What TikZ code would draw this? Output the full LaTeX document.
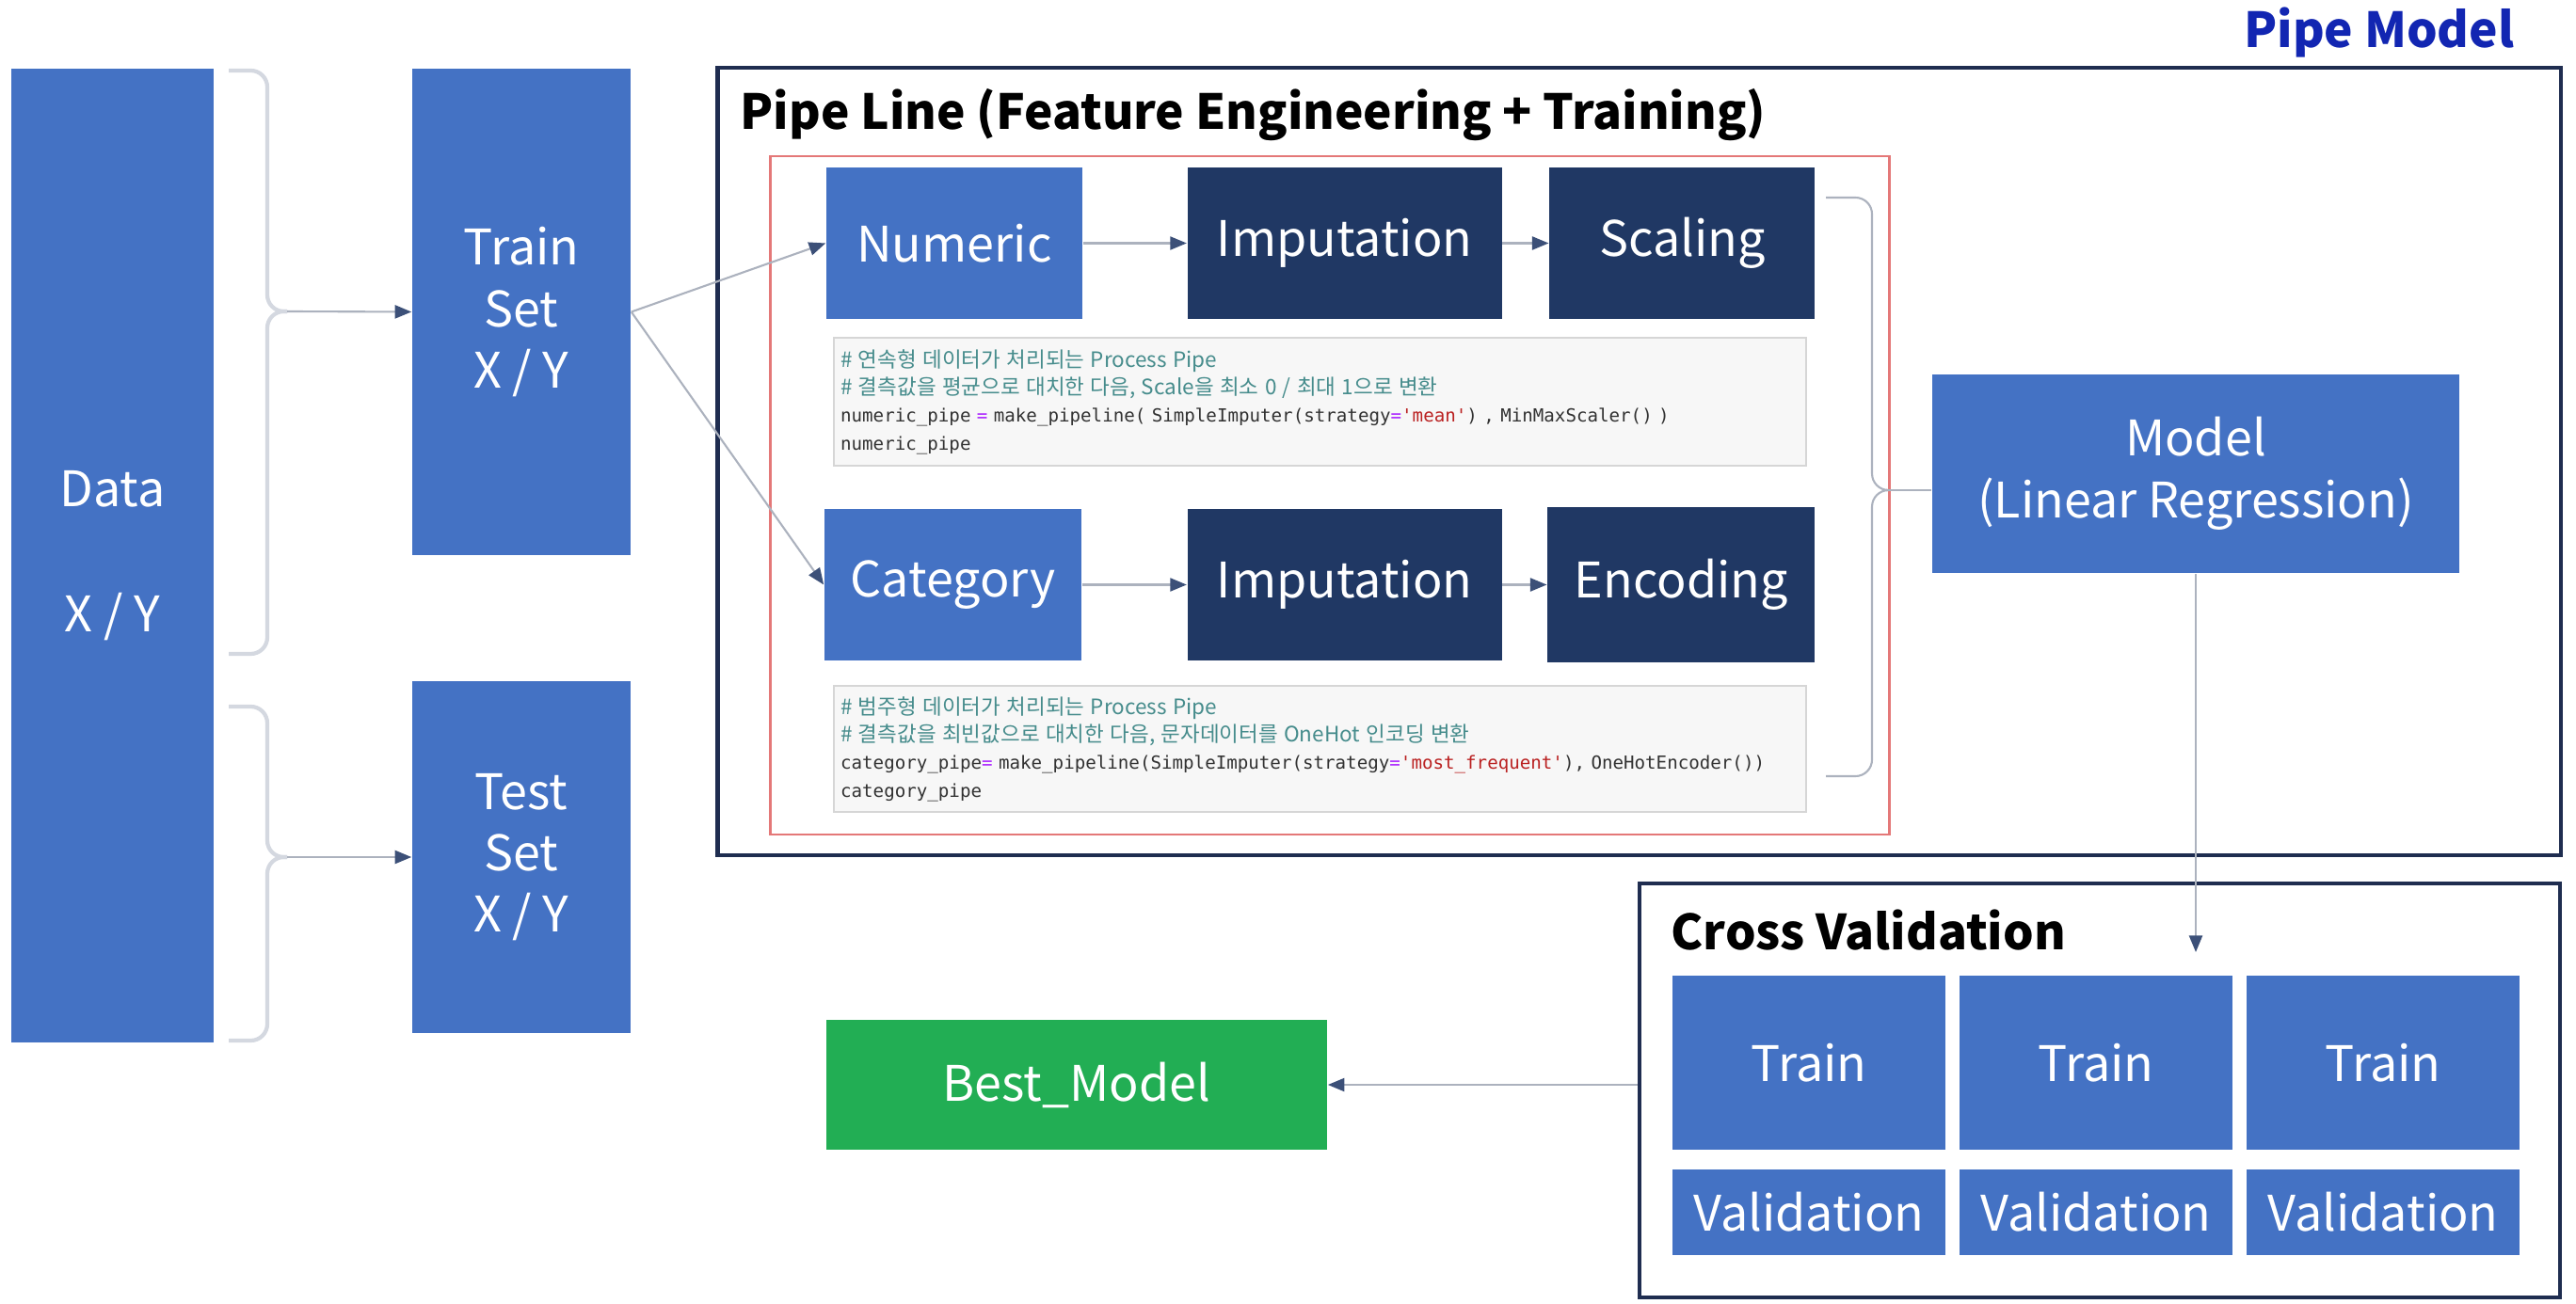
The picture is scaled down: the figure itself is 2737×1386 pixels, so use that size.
\documentclass[tikz,border=0pt]{standalone}
\usepackage{fontspec}
\setmainfont{Noto Sans CJK KR}
\newfontfamily\codefont{DejaVu Sans Mono}
\newfontfamily\krfont{Noto Sans CJK KR}
\usetikzlibrary{arrows.meta, positioning}

\definecolor{setblue}{RGB}{68,114,196}
\definecolor{stepnavy}{RGB}{32,56,100}
\definecolor{bestgreen}{RGB}{34,174,84}
\definecolor{framenavy}{RGB}{31,45,80}
\definecolor{pipered}{RGB}{228,120,120}
\definecolor{titleblue}{RGB}{18,38,178}
\definecolor{bracegray}{RGB}{212,216,224}
\definecolor{linegray}{RGB}{172,178,190}
\definecolor{tipnavy}{RGB}{60,80,120}
\definecolor{codebg}{RGB}{247,247,247}
\definecolor{codeline}{RGB}{214,214,214}
\definecolor{cmt}{RGB}{70,140,140}
\definecolor{codeop}{RGB}{170,34,255}
\definecolor{codestr}{RGB}{186,33,33}
\definecolor{codetext}{RGB}{50,50,50}

\begin{document}
\begin{tikzpicture}[x=0.01cm, y=-0.01cm,
  setbox/.style={rectangle, fill=setblue, text=white, inner sep=0pt,
                 align=center, font=\fontsize{14.8}{18.6}\selectfont},
  stepbox/.style={setbox, fill=stepnavy},
  frame/.style={rectangle, draw=framenavy, line width=1.2pt, inner sep=0pt},
  title/.style={font=\bfseries\fontsize{14.6}{18}\selectfont, inner sep=0pt},
  codebox/.style={rectangle, fill=codebg, draw=codeline, line width=0.6pt,
                  minimum width=10.32cm, text width=10.18cm, inner xsep=2pt,
                  align=left, text=codetext,
                  font=\codefont\fontsize{5.45}{8.3}\selectfont},
  arrow/.style={linegray, line width=0.6pt,
                -{Triangle[length=5pt, width=4pt, color=tipnavy]}},
  brace/.style={bracegray, line width=1.2pt, rounded corners=5pt}
]
\useasboundingbox (0,0) rectangle (2737,1386);

% frames
\node[frame, minimum width=19.57cm, minimum height=8.37cm] (pipemodel) at (1741.5,490.5) {};
\node[frame, draw=pipered, line width=0.7pt, minimum width=11.88cm,
      minimum height=7.21cm] (pipeline) at (1413,526.5) {};
\node[frame, minimum width=9.78cm, minimum height=4.40cm] (cv) at (2231,1159) {};

\node[title, text=titleblue, anchor=base east] (pipemodeltitle) at (2672,51) {Pipe Model};
\node[title, anchor=base west] (pipelinetitle) at (786,138)
  {Pipe Line (Feature Engineering + Training)};
\node[title, anchor=base west] (cvtitle) at (1775,1009) {Cross Validation};

% data split
\node[setbox, minimum width=2.15cm, minimum height=10.35cm] (data) at (119.5,590.5)
  {Data\\[19pt]X / Y};
\node[setbox, minimum width=2.32cm, minimum height=5.17cm] (train) at (554,331.5)
  {Train\\Set\\X / Y};
\node[setbox, minimum width=2.32cm, minimum height=3.74cm] (test) at (554,911)
  {Test\\Set\\X / Y};

\coordinate (trainbrace) at (305,331);
\coordinate (testbrace) at (305,911);
\draw[brace] (243,75) -- (284,75) -- (284,331) -- (trainbrace);
\draw[brace] (trainbrace) -- (284,331) -- (284,695) -- (243,695);
\draw[brace] (243,751) -- (284,751) -- (284,911) -- (testbrace);
\draw[brace] (testbrace) -- (284,911) -- (284,1106) -- (243,1106);

% numeric pipe
\node[setbox, minimum width=2.72cm, minimum height=1.61cm] (numeric) at (1014,258.5) {Numeric};
\node[stepbox, minimum width=3.34cm, minimum height=1.61cm, right=1.1cm of numeric]
  (numimpute) {Imputation};
\node[stepbox, minimum width=2.82cm, minimum height=1.61cm, right=0.49cm of numimpute]
  (scaling) {Scaling};
\node[codebox, minimum height=1.36cm, anchor=north west] (numcode) at (885,358)
  {{\krfont\fontsize{6.4}{8.3}\selectfont\color{cmt}\# 연속형 데이터가 처리되는 Process Pipe}\\
   {\krfont\fontsize{6.4}{8.3}\selectfont\color{cmt}\# 결측값을 평균으로 대치한 다음, Scale을 최소 0 / 최대 1으로 변환}\\
   numeric\_pipe {\color{codeop}=} make\_pipeline( SimpleImputer(strategy{\color{codeop}=}{\color{codestr}'mean'}) , MinMaxScaler() )\\
   numeric\_pipe};

% category pipe
\node[setbox, minimum width=2.73cm, minimum height=1.61cm] (category) at (1012.5,621.5) {Category};
\node[stepbox, minimum width=3.34cm, minimum height=1.61cm, right=1.11cm of category]
  (catimpute) {Imputation};
\node[stepbox, minimum width=2.84cm, minimum height=1.64cm, right=0.47cm of catimpute]
  (encoding) {Encoding};
\node[codebox, minimum height=1.33cm, anchor=north west] (catcode) at (885,728)
  {{\krfont\fontsize{6.4}{8.3}\selectfont\color{cmt}\# 범주형 데이터가 처리되는 Process Pipe}\\
   {\krfont\fontsize{6.4}{8.3}\selectfont\color{cmt}\# 결측값을 최빈값으로 대치한 다음, 문자데이터를 OneHot 인코딩 변환}\\
   category\_pipe{\color{codeop}=} make\_pipeline(SimpleImputer(strategy{\color{codeop}=}{\color{codestr}'most\_frequent'}), OneHotEncoder())\\
   category\_pipe};

% model
\node[setbox, minimum width=5.6cm, minimum height=2.11cm] (model) at (2333,503.5)
  {Model\\(Linear Regression)};
\coordinate (modelbrace) at (2004,521);
\draw[brace, linegray, line width=0.6pt] (1940,210) -- (1989,210) -- (1989,521) -- (modelbrace);
\draw[brace, linegray, line width=0.6pt] (modelbrace) -- (1989,521) -- (1989,825) -- (1940,825);
\draw[linegray, line width=0.6pt] (modelbrace) -- (modelbrace -| model.west);

% cross validation
\foreach \i/\x in {1/1922, 2/2227, 3/2532} {
  \node[setbox, minimum width=2.9cm, minimum height=1.85cm] (train\i) at (\x,1129.5) {Train};
  \node[setbox, minimum width=2.9cm, minimum height=0.91cm] (valid\i) at (\x,1288.5) {Validation};
}
\coordinate (cvtop) at (2333,1012);

\node[setbox, fill=bestgreen, minimum width=5.32cm, minimum height=1.38cm] (best) at (1144,1153)
  {Best\_Model};

\draw[arrow] (trainbrace) -- (train.west);
\draw[arrow] (testbrace) -- (test.west);
\draw[arrow] (train.east) -- (numeric.west);
\draw[arrow] (train.east) -- (category.west);
\draw[arrow] (numeric) -- (numimpute);
\draw[arrow] (numimpute) -- (scaling);
\draw[arrow] (category) -- (catimpute);
\draw[arrow] (catimpute) -- (encoding);
\draw[arrow] (model.south) -- (cvtop);
\draw[arrow] (best.east -| cv.west) -- (best.east);

\end{tikzpicture}
\end{document}
